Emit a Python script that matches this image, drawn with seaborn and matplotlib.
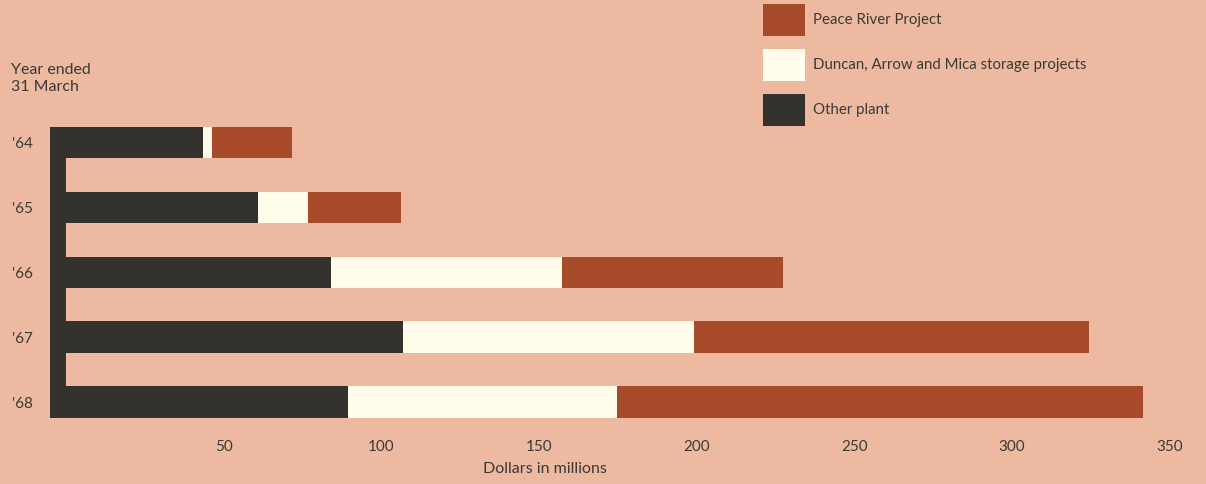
import matplotlib
matplotlib.use("Agg")
from matplotlib import pyplot as plt
from matplotlib.patches import Patch
import pandas as pd
import seaborn as sns

# values (dollars in millions)
years = ["'64", "'65", "'66", "'67", "'68"]
other_plant = [43.4, 61.0, 84.0, 107.0, 89.5]
duncan_arrow_mica = [2.9, 15.8, 73.4, 92.3, 85.2]
peace_river = [25.3, 29.4, 70.1, 125.2, 166.9]
xticks = [50, 100, 150, 200, 250, 300, 350]

bg = "#EDB9A1"
c_peace = "#A84B2B"
c_duncan = "#FFFCEA"
c_other = "#34322F"
txt = "#3B3A36"

df = pd.DataFrame({"year": years, "other": other_plant,
                   "duncan": duncan_arrow_mica, "peace": peace_river})
df["end_duncan"] = df["other"] + df["duncan"]
df["end_peace"] = df["end_duncan"] + df["peace"]

sns.set_theme(style="white")
plt.rcParams["font.family"] = ["Lato", "DejaVu Sans"]

fig = plt.figure(figsize=(12.06, 4.84), dpi=100, facecolor=bg)
ax = fig.add_axes([47.1 / 1206, 54 / 484, 1154 / 1206, 330 / 484])
ax.set_facecolor(bg)

w = 0.485
# stacked bars: draw cumulative totals back to front
sns.barplot(data=df, x="end_peace", y="year", orient="h", order=years, color=c_peace,
            saturation=1, width=w, ax=ax, linewidth=0)
sns.barplot(data=df, x="end_duncan", y="year", orient="h", order=years, color=c_duncan,
            saturation=1, width=w, ax=ax, linewidth=0)
sns.barplot(data=df, x="other", y="year", orient="h", order=years, color=c_other,
            saturation=1, width=w, ax=ax, linewidth=0)

ax.set_xlim(-6, 360)
ax.set_ylim(4.431, -0.655)
ax.set_xticks(xticks)
ax.set_xticklabels([str(t) for t in xticks])
ax.tick_params(axis="x", length=0, pad=7, labelsize=11, labelcolor=txt)
ax.tick_params(axis="y", length=0, pad=18, labelsize=11, labelcolor=txt)
for lab in ax.get_yticklabels():
    lab.set_ha("left")

for s in ["top", "right", "bottom"]:
    ax.spines[s].set_visible(False)
# thick dark bar joining the stacks on the left
sp = ax.spines["left"]
sp.set_position(("data", -2.54))
sp.set_linewidth(11.5)
sp.set_color(c_other)
sp.set_capstyle("butt")
sp.set_bounds(-w / 2, 4 + w / 2)

ax.set_ylabel("")
ax.set_xlabel("Dollars in millions", fontsize=11.5, color=txt)
ax.xaxis.label.set_va("center")
ax.xaxis.set_label_coords(0.431, -0.118)

fig.text(11 / 1206, 1 - 63 / 484, "Year ended\n31 March", fontsize=11.5, color=txt,
         va="top", ha="left", linespacing=1.25)

handles = [Patch(facecolor=c_peace, edgecolor="none", label="Peace River Project"),
           Patch(facecolor=c_duncan, edgecolor="none", label="Duncan, Arrow and Mica storage projects"),
           Patch(facecolor=c_other, edgecolor="none", label="Other plant")]
leg = fig.legend(handles=handles, loc="upper left", bbox_to_anchor=(763 / 1206, 1 - 4 / 484),
                 frameon=False, fontsize=10.8, handlelength=2.8, handleheight=2.9,
                 labelspacing=0.87, handletextpad=0.55, borderpad=0, borderaxespad=0)
for t in leg.get_texts():
    t.set_color(txt)

fig.savefig("out.png", dpi=100, facecolor=bg)
